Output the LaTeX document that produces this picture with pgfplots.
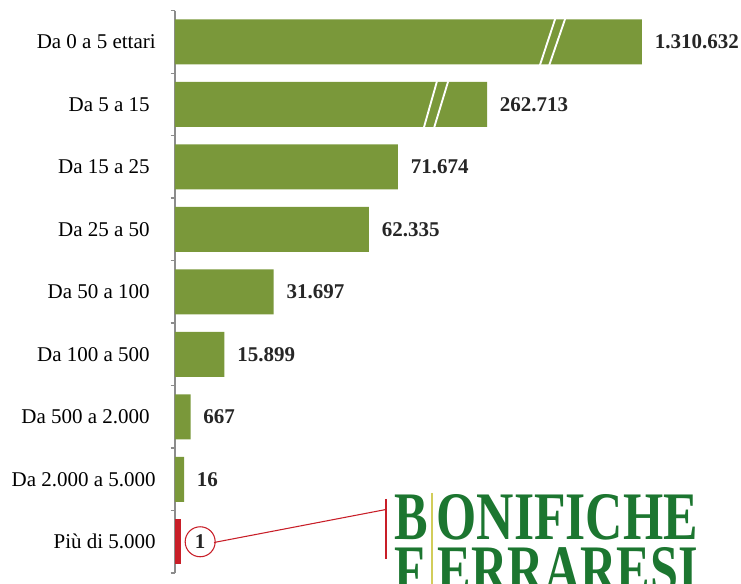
\documentclass[border=0pt]{standalone}
\usepackage{pgfplots}
\pgfplotsset{compat=1.18}
\usepackage{pgfplotstable}
\usepackage{fontspec}
\setmainfont{Liberation Serif}
\definecolor{barG}{RGB}{122,152,58}
\definecolor{barR}{RGB}{200,30,40}
\definecolor{logoG}{RGB}{28,118,48}
\definecolor{logoY}{RGB}{210,205,90}
\definecolor{axG}{RGB}{140,140,140}

% bar lengths as drawn (thousands; the two largest bars are broken, the smallest are drawn at a minimum width)
\pgfplotstableread{
y len label
0 150.1 1.310.632
1 100.3 262.713
2 71.674 71.674
3 62.335 62.335
4 31.697 31.697
5 15.899 15.899
6 5.0 667
7 2.9 16
}\greenbars
\pgfplotstableread{
y len label
8 1.9 1
}\redbars

\begin{document}
\begin{tikzpicture}
\useasboundingbox (-131.25pt,-8.25pt) rectangle (424.5pt,429.75pt);
\clip (-131.25pt,-8.25pt) rectangle (424.5pt,429.75pt);
\begin{axis}[
  at={(0,0)}, anchor=south west,
  scale only axis, width=420pt, height=421.7pt,
  xmin=0, xmax=180, ymin=-0.5, ymax=8.5, y dir=reverse,
  axis x line=none, axis y line*=left,
  axis line style={axG, line width=1.1pt},
  xbar, bar width=33.75pt, bar shift=0pt,
  ytick={0,...,8},
  yticklabels={Da 0 a 5 ettari\kern-4.5pt, Da 5 a 15, Da 15 a 25, Da 25 a 50, Da 50 a 100, Da 100 a 500, Da 500 a 2.000, Da 2.000 a 5.000\kern-4.5pt, Più di 5.000\kern-4.5pt},
  major tick length=0pt,
  minor ytick={-0.5,0.5,...,8.5},
  minor tick length=3.3pt,
  tick align=outside, ytick pos=left,
  minor tick style={axG, line width=1pt},
  yticklabel style={font=\fontsize{15.75}{18}\selectfont, inner sep=0pt, anchor=east, xshift=-18.75pt},
  clip=false,
  nodes near coords, point meta=explicit symbolic,
]
\addplot[fill=barG, draw=none,
  every node near coord/.append style={font=\fontsize{15.75}{18}\selectfont\bfseries, anchor=west, inner sep=0pt, xshift=9.5pt, text=black!85}]
  table[x=len, y=y, meta=label] {\greenbars};
\addplot[fill=barR, draw=none,
  every node near coord/.append style={font=\fontsize{15.75}{18}\selectfont\bfseries, anchor=west, circle, draw=barR, line width=0.8pt, minimum size=22.5pt, inner sep=0pt, xshift=2.8pt, text=black!85}]
  table[x=len, y=y, meta=label] {\redbars};
% break marks on the two broken bars
\draw[white, line width=1.4pt] (axis cs:117.3,0.37) -- (axis cs:122.2,-0.37);
\draw[white, line width=1.4pt] (axis cs:120.3,0.37) -- (axis cs:125.4,-0.37);
\draw[white, line width=1.4pt] (axis cs:80.0,1.37) -- (axis cs:84.2,0.63);
\draw[white, line width=1.4pt] (axis cs:83.3,1.37) -- (axis cs:87.8,0.63);
\end{axis}
% connector to logo
\draw[barR, line width=0.8pt] ({(214-175)*0.75pt},{(573-542.5)*0.75pt}) -- ({(386-175)*0.75pt},{(573-509.5)*0.75pt});
\draw[barR, line width=0.8pt] ({(386-175)*0.75pt},{(573-499)*0.75pt}) -- ({(386-175)*0.75pt},{(573-559)*0.75pt});
% logo
\draw[logoY, line width=0.9pt] (192.75pt,60pt) -- (192.75pt,-10pt);
\begin{scope}[every node/.style={inner sep=0pt, anchor=base west, text=logoG, font=\fontsize{51}{53}\selectfont\bfseries}]
\node at (164.25pt,24.75pt) {\scalebox{0.74}[1]{B}};
\node at (196pt,24.75pt) {\scalebox{0.76}[1]{ONIFICHE}};
\node at (164.25pt,-15pt) {\scalebox{0.74}[1]{F}};
\node at (197pt,-15pt) {\scalebox{0.74}[1]{ERRARESI}};
\end{scope}
\end{tikzpicture}
\end{document}
